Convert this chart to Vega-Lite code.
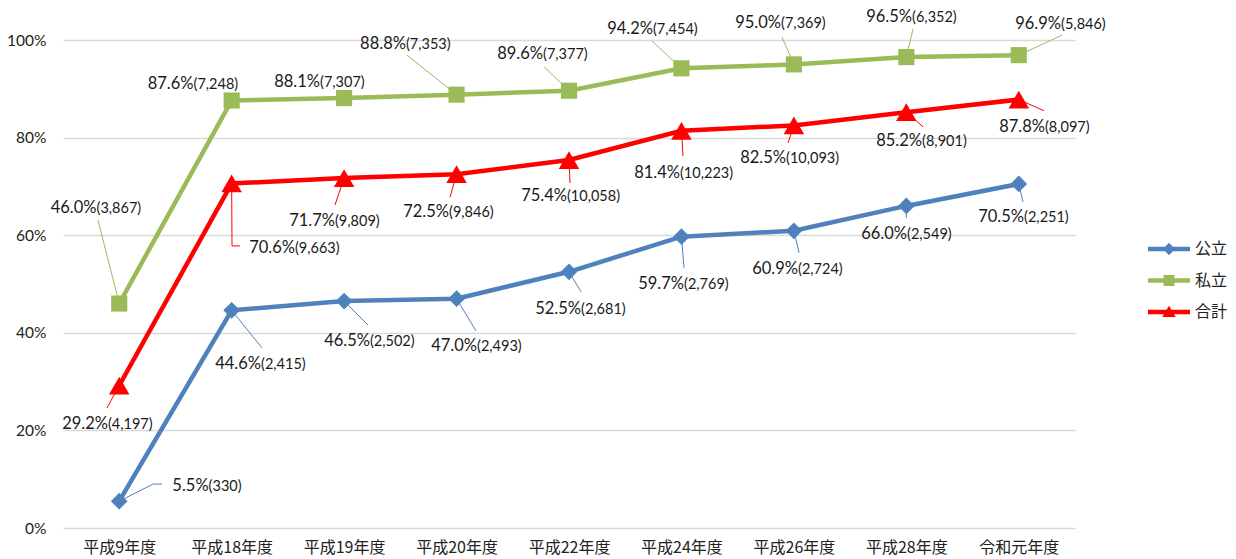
{
  "$schema": "https://vega.github.io/schema/vega-lite/v6.json",
  "width": 1012,
  "height": 488,
  "autosize": "none",
  "padding": {"left": 63, "top": 40, "right": 161, "bottom": 31},
  "background": "white",
  "config": {"view": {"stroke": null}, "font": "Lato"},
  "datasets": {
    "rows": [
      {"年度": "平成9年度", "idx": 0, "区分": "公立", "率": 0.055, "人数": 330, "lx": 0.795, "ly": 0.088, "ex": 0.3, "ey": 0.09, "hx": 0.38},
      {"年度": "平成18年度", "idx": 1, "区分": "公立", "率": 0.446, "人数": 2415, "lx": 1.261, "ly": 0.338, "ex": 1.27, "ey": 0.369},
      {"年度": "平成19年度", "idx": 2, "区分": "公立", "率": 0.465, "人数": 2502, "lx": 2.23, "ly": 0.385, "ex": 2.213, "ey": 0.416},
      {"年度": "平成20年度", "idx": 3, "区分": "公立", "率": 0.47, "人数": 2493, "lx": 3.182, "ly": 0.375, "ex": 3.173, "ey": 0.404},
      {"年度": "平成22年度", "idx": 4, "区分": "公立", "率": 0.525, "人数": 2681, "lx": 4.107, "ly": 0.451, "ex": 4.107, "ey": 0.484},
      {"年度": "平成24年度", "idx": 5, "区分": "公立", "率": 0.597, "人数": 2769, "lx": 5.023, "ly": 0.502, "ex": 5.023, "ey": 0.533},
      {"年度": "平成26年度", "idx": 6, "区分": "公立", "率": 0.609, "人数": 2724, "lx": 6.037, "ly": 0.533, "ex": 6.046, "ey": 0.564},
      {"年度": "平成28年度", "idx": 7, "区分": "公立", "率": 0.66, "人数": 2549, "lx": 7.006, "ly": 0.605, "ex": 7.0, "ey": 0.635},
      {"年度": "令和元年度", "idx": 8, "区分": "公立", "率": 0.705, "人数": 2251, "lx": 8.047, "ly": 0.639, "ex": 8.038, "ey": 0.668},
      {"年度": "平成9年度", "idx": 0, "区分": "私立", "率": 0.46, "人数": 3867, "lx": -0.202, "ly": 0.658, "ex": -0.189, "ey": 0.631},
      {"年度": "平成18年度", "idx": 1, "区分": "私立", "率": 0.876, "人数": 7248, "lx": 0.661, "ly": 0.911},
      {"年度": "平成19年度", "idx": 2, "区分": "私立", "率": 0.881, "人数": 7307, "lx": 1.786, "ly": 0.916},
      {"年度": "平成20年度", "idx": 3, "区分": "私立", "率": 0.888, "人数": 7353, "lx": 2.55, "ly": 0.994, "ex": 2.559, "ey": 0.969},
      {"年度": "平成22年度", "idx": 4, "区分": "私立", "率": 0.896, "人数": 7377, "lx": 3.769, "ly": 0.973, "ex": 3.778, "ey": 0.945},
      {"年度": "平成24年度", "idx": 5, "区分": "私立", "率": 0.942, "人数": 7454, "lx": 4.747, "ly": 1.025, "ex": 4.738, "ey": 0.998},
      {"年度": "平成26年度", "idx": 6, "区分": "私立", "率": 0.95, "人数": 7369, "lx": 5.886, "ly": 1.037, "ex": 5.894, "ey": 1.006},
      {"年度": "平成28年度", "idx": 7, "区分": "私立", "率": 0.965, "人数": 6352, "lx": 7.051, "ly": 1.049, "ex": 7.06, "ey": 1.023},
      {"年度": "令和元年度", "idx": 8, "区分": "私立", "率": 0.969, "人数": 5846, "lx": 8.376, "ly": 1.035, "ex": 8.385, "ey": 1.01},
      {"年度": "平成9年度", "idx": 0, "区分": "合計", "率": 0.292, "人数": 4197, "lx": -0.1, "ly": 0.215, "ex": -0.109, "ey": 0.246},
      {"年度": "平成18年度", "idx": 1, "区分": "合計", "率": 0.706, "人数": 9663, "lx": 1.563, "ly": 0.576, "ex": 1.003, "ey": 0.578, "hx": 1.074},
      {"年度": "平成19年度", "idx": 2, "区分": "合計", "率": 0.717, "人数": 9809, "lx": 1.919, "ly": 0.631, "ex": 1.919, "ey": 0.662},
      {"年度": "平成20年度", "idx": 3, "区分": "合計", "率": 0.725, "人数": 9846, "lx": 2.933, "ly": 0.65, "ex": 2.942, "ey": 0.678},
      {"年度": "平成22年度", "idx": 4, "区分": "合計", "率": 0.754, "人数": 10058, "lx": 3.982, "ly": 0.682, "ex": 4.009, "ey": 0.707},
      {"年度": "平成24年度", "idx": 5, "区分": "合計", "率": 0.814, "人数": 10223, "lx": 4.987, "ly": 0.73, "ex": 5.014, "ey": 0.762},
      {"年度": "平成26年度", "idx": 6, "区分": "合計", "率": 0.825, "人数": 10093, "lx": 5.93, "ly": 0.76, "ex": 5.948, "ey": 0.789},
      {"年度": "平成28年度", "idx": 7, "区分": "合計", "率": 0.852, "人数": 8901, "lx": 7.14, "ly": 0.795, "ex": 7.149, "ey": 0.822},
      {"年度": "令和元年度", "idx": 8, "区分": "合計", "率": 0.878, "人数": 8097, "lx": 8.233, "ly": 0.824, "ex": 8.225, "ey": 0.855}
    ]
  },
  "data": {"name": "rows"},
  "layer": [
    {
      "encoding": {
        "x": {
          "field": "年度", "type": "nominal",
          "sort": ["平成9年度", "平成18年度", "平成19年度", "平成20年度", "平成22年度", "平成24年度", "平成26年度", "平成28年度", "令和元年度"],
          "scale": {"type": "point", "padding": 0.5},
          "axis": {"title": null, "labelAngle": 0, "domain": false, "ticks": false, "grid": false, "labelFont": "Noto Sans CJK JP", "labelFontSize": 16, "labelColor": "#222", "labelPadding": 11}
        },
        "y": {
          "field": "率", "type": "quantitative",
          "scale": {"domain": [0, 1]},
          "axis": {"title": null, "format": "%", "values": [0, 0.2, 0.4, 0.6, 0.8, 1], "domain": false, "ticks": false, "grid": true, "gridColor": "#d9d9d9", "gridWidth": 1.3, "labelFont": "Lato", "labelFontSize": 15.5, "labelColor": "#222", "labelPadding": 17}
        },
        "color": {
          "field": "区分", "type": "nominal",
          "scale": {"domain": ["公立", "私立", "合計"], "range": ["#4F81BD", "#9BBB59", "#FF0000"]},
          "legend": {
            "title": null, "orient": "none", "legendX": 1096, "legendY": 199, "padding": 0,
            "symbolSize": 400, "rowPadding": 13.5, "labelOffset": 16,
            "labelFont": "Noto Sans CJK JP", "labelFontSize": 16, "labelColor": "#222",
            "symbolStrokeWidth": 0,
            "encode": {
              "symbols": {
                "update": {
                  "shape": {"signal": "datum.value === '公立' ? 'M-2.1,-0.22H2.1V0.22H-2.1Z M0,-0.62L0.62,0L0,0.62L-0.62,0Z' : datum.value === '私立' ? 'M-2.1,-0.22H2.1V0.22H-2.1Z M-0.55,-0.55H0.55V0.55H-0.55Z' : 'M-2.1,-0.22H2.1V0.22H-2.1Z M0,-0.62L0.68,0.5H-0.68Z'"},
                  "fill": {"signal": "datum.value === '公立' ? '#4F81BD' : datum.value === '私立' ? '#9BBB59' : '#FF0000'"},
                  "stroke": {"value": "transparent"},
                  "strokeWidth": {"value": 0},
                  "opacity": {"value": 1}
                }
              }
            }
          }
        }
      },
      "layer": [
        {"mark": {"type": "line", "strokeWidth": 4.5}},
        {
          "transform": [{"filter": "datum['区分'] === '公立'"}],
          "mark": {"type": "point", "filled": true, "opacity": 1, "shape": "diamond", "size": 280}
        },
        {
          "transform": [{"filter": "datum['区分'] === '私立'"}],
          "mark": {"type": "point", "filled": true, "opacity": 1, "shape": "square", "size": 260}
        },
        {
          "transform": [{"filter": "datum['区分'] === '合計'"}],
          "mark": {"type": "point", "filled": true, "opacity": 1, "shape": "triangle-up", "size": 420}
        }
      ]
    },
    {
      "transform": [{"filter": "isValid(datum.ex)"}],
      "mark": {"type": "rule", "strokeWidth": 1},
      "encoding": {
        "x": {"field": "idx", "type": "quantitative", "scale": {"domain": [-0.5, 8.5], "nice": false, "zero": false}, "axis": null},
        "x2": {"field": "ex"},
        "y": {"field": "率", "type": "quantitative"},
        "y2": {"field": "ey"},
        "color": {"field": "区分", "type": "nominal"}
      }
    },
    {
      "transform": [{"filter": "isValid(datum.hx)"}],
      "mark": {"type": "rule", "strokeWidth": 1},
      "encoding": {
        "x": {"field": "ex", "type": "quantitative", "scale": {"domain": [-0.5, 8.5], "nice": false, "zero": false}, "axis": null},
        "x2": {"field": "hx"},
        "y": {"field": "ey", "type": "quantitative"},
        "color": {"field": "区分", "type": "nominal"}
      }
    },
    {
      "encoding": {
        "x": {"field": "lx", "type": "quantitative", "scale": {"domain": [-0.5, 8.5], "nice": false, "zero": false}, "axis": null},
        "y": {"field": "ly", "type": "quantitative"}
      },
      "layer": [
        {
          "mark": {"type": "text", "align": "right", "baseline": "alphabetic", "dy": 6, "font": "Lato", "fontSize": 16.5, "color": "#1a1a1a"},
          "encoding": {"text": {"field": "率", "type": "quantitative", "format": ".1%"}}
        },
        {
          "mark": {"type": "text", "align": "left", "baseline": "alphabetic", "dy": 6, "font": "Lato", "fontSize": 14.5, "color": "#1a1a1a", "text": {"expr": "'(' + format(datum['人数'], ',') + ')'"}},
          "encoding": {}
        }
      ]
    }
  ],
  "resolve": {"scale": {"x": "independent"}}
}
